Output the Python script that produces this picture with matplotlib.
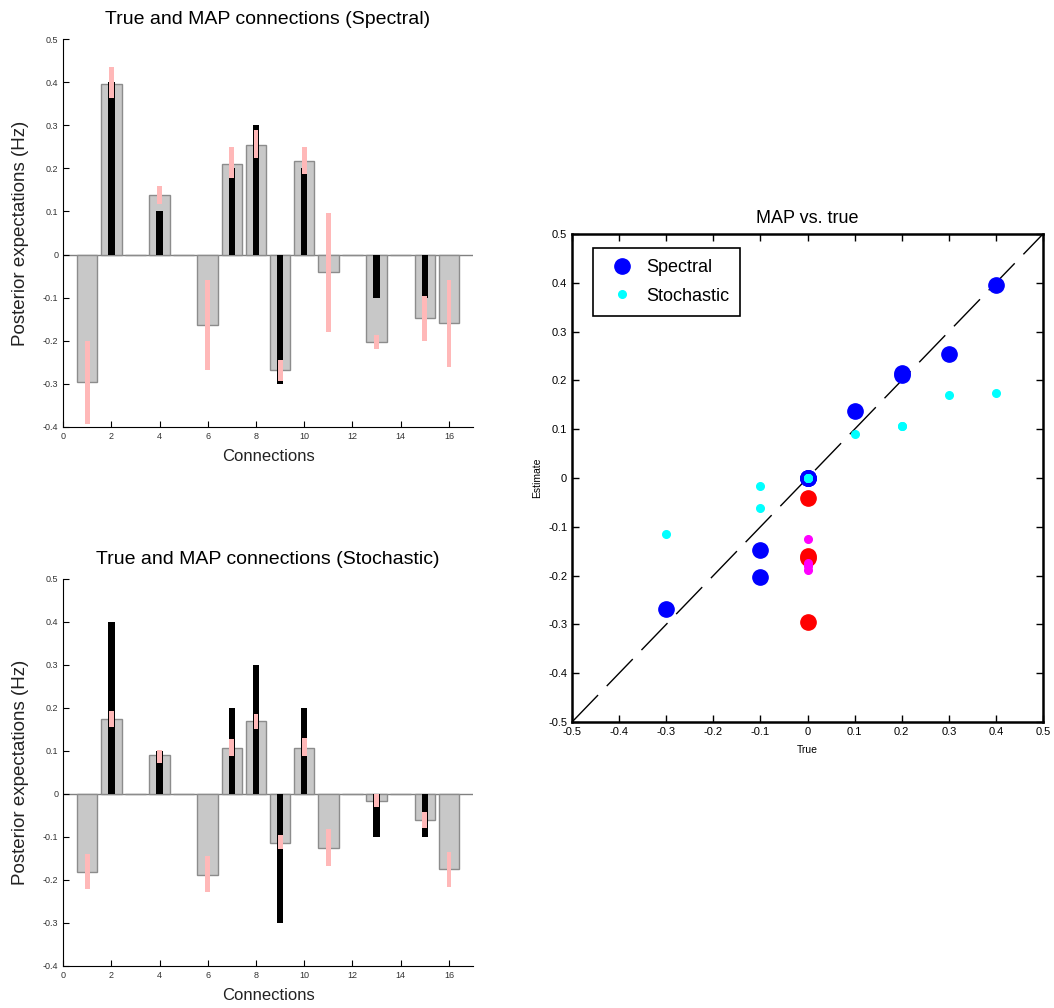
import numpy as np
import matplotlib
matplotlib.use("Agg")
import matplotlib.pyplot as plt
from matplotlib.ticker import FuncFormatter

plt.rcParams['font.family'] = ['Liberation Sans', 'DejaVu Sans']

# connections 1..16
conn = np.arange(1, 17)
true_vals = [0, 0.4, 0, 0.1, 0, 0, 0.2, 0.3, -0.3, 0.2, 0, 0, -0.1, 0, -0.1, 0]
free = [1, 1, 0, 1, 0, 1, 1, 1, 1, 1, 1, 0, 1, 0, 1, 1]

nan = np.nan
spectral_map = [-0.295, 0.395, 0, 0.137, 0, -0.163, 0.211, 0.255, -0.268, 0.216,
                -0.041, 0, -0.203, 0, -0.148, -0.159]
spectral_lo = [-0.392, 0.362, nan, 0.118, nan, -0.267, 0.177, 0.223, -0.294, 0.186,
               -0.18, nan, -0.22, nan, -0.2, -0.262]
spectral_hi = [-0.2, 0.436, nan, 0.158, nan, -0.058, 0.249, 0.288, -0.244, 0.25,
               0.097, nan, -0.186, nan, -0.097, -0.058]

stochastic_map = [-0.181, 0.174, 0, 0.09, 0, -0.188, 0.107, 0.17, -0.114, 0.107,
                  -0.125, 0, -0.016, 0, -0.061, -0.175]
stochastic_lo = [-0.221, 0.156, nan, 0.072, nan, -0.228, 0.088, 0.151, -0.128, 0.088,
                 -0.167, nan, -0.03, nan, -0.079, -0.216]
stochastic_hi = [-0.14, 0.193, nan, 0.102, nan, -0.144, 0.128, 0.186, -0.095, 0.13,
                 -0.081, nan, 0.0, nan, -0.042, -0.135]

# matlab-style tick labels: 0 instead of -0.0
fmt = FuncFormatter(lambda v, p: '0' if abs(v) < 1e-9 else '%g' % round(v, 2))

fig = plt.figure(figsize=(10.54, 10.08), dpi=100)


def bar_panel(rect, title, est, lo, hi):
    ax = fig.add_axes(rect)
    ax.bar(conn, est, width=0.85, color='#c8c8c8', edgecolor='#8c8c8c', linewidth=1, zorder=2)
    ax.bar(conn, true_vals, width=0.27, color='black', zorder=3)
    lo = np.array(lo)
    hi = np.array(hi)
    ok = ~np.isnan(lo)
    ax.bar(conn[ok], (hi - lo)[ok], bottom=lo[ok], width=0.2, color='#ffb8b8', zorder=4)
    ax.axhline(0, color='#808080', lw=1, zorder=1)
    ax.set_xlim(0, 17)
    ax.set_ylim(-0.4, 0.5)
    ax.set_xticks(np.arange(0, 17, 2))
    ax.set_yticks(np.arange(-0.4, 0.51, 0.1))
    ax.yaxis.set_major_formatter(fmt)
    ax.tick_params(direction='in', length=4, labelsize=6.5, labelcolor='#333333')
    ax.spines['top'].set_visible(False)
    ax.spines['right'].set_visible(False)
    ax.set_title(title, fontsize=14, pad=11)
    ax.set_xlabel('Connections', fontsize=12, color='#222222', labelpad=6)
    ax.set_ylabel('Posterior expectations (Hz)', fontsize=13.5, color='#222222', labelpad=10)
    return ax


bar_panel([0.0598, 0.5764, 0.3890, 0.3849], 'True and MAP connections (Spectral)',
          spectral_map, spectral_lo, spectral_hi)
bar_panel([0.0598, 0.0417, 0.3890, 0.3839], 'True and MAP connections (Stochastic)',
          stochastic_map, stochastic_lo, stochastic_hi)

# MAP vs true scatter
ax = fig.add_axes([0.5427, 0.2837, 0.4469, 0.4842])
tv = np.array(true_vals)
fr = np.array(free)
sp = np.array(spectral_map)
st = np.array(stochastic_map)
fp = (tv == 0) & (fr == 1)

ax.plot([-0.5, 0.5], [-0.5, 0.5], color='black', lw=1, linestyle=(0, (27, 9)))
ax.plot(tv[~fp], sp[~fp], 'o', color='blue', ms=11, label='Spectral')
ax.plot(tv[fp], sp[fp], 'o', color='red', ms=11)
ax.plot(tv[~fp], st[~fp], 'o', color='cyan', ms=5.5, label='Stochastic')
ax.plot(tv[fp], st[fp], 'o', color='magenta', ms=5.5)

ax.set_xlim(-0.5, 0.5)
ax.set_ylim(-0.5, 0.5)
ax.set_xticks(np.arange(-0.5, 0.51, 0.1))
ax.set_yticks(np.arange(-0.5, 0.51, 0.1))
ax.xaxis.set_major_formatter(fmt)
ax.yaxis.set_major_formatter(fmt)
ax.tick_params(direction='in', length=5, width=1, labelsize=8, top=True, right=True)
for s in ax.spines.values():
    s.set_linewidth(1.8)
ax.set_title('MAP vs. true', fontsize=13, pad=8)
ax.set_xlabel('True', fontsize=7.5, labelpad=6)
ax.set_ylabel('Estimate', fontsize=7.5, labelpad=4)
leg = ax.legend(loc='upper left', bbox_to_anchor=(0.045, 0.971), borderaxespad=0,
                fontsize=13, fancybox=False, framealpha=1, edgecolor='black',
                handletextpad=0.35, borderpad=0.6, labelspacing=0.65)
leg.get_frame().set_linewidth(1.2)

fig.savefig('out.png', dpi=100)
